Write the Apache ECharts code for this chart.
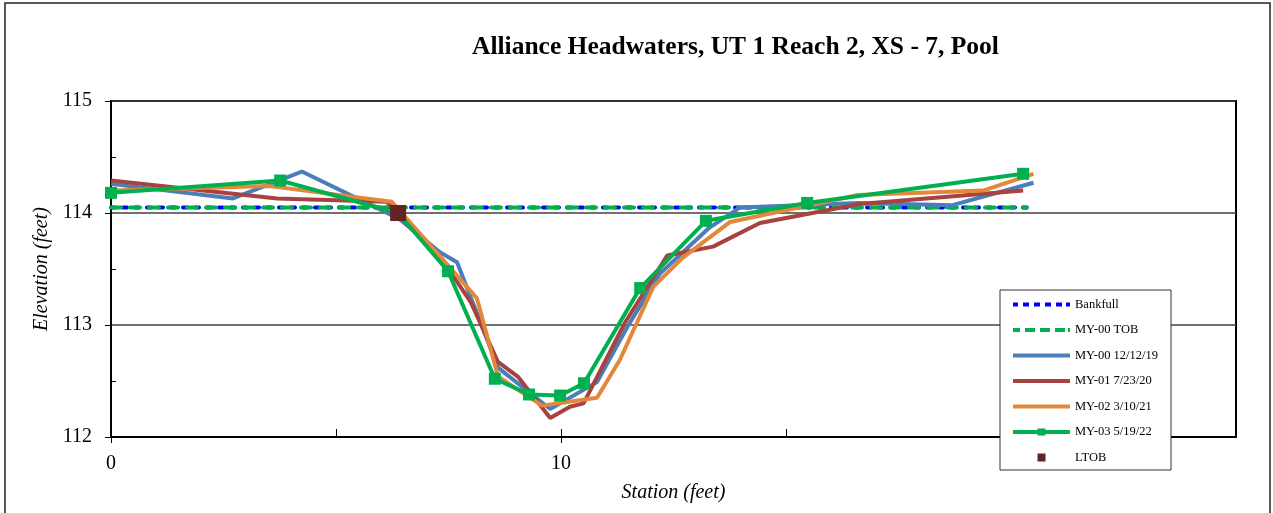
<!DOCTYPE html>
<html>
<head>
<meta charset="utf-8">
<script src="https://cdn.jsdelivr.net/npm/echarts@6/dist/echarts.min.js"></script>
<style>html,body{margin:0;padding:0;background:#fff;}#c{width:1273px;height:513px;}</style>
</head>
<body>
<div id="c"></div>
<script>
const titleText = 'Alliance Headwaters, UT 1 Reach 2, XS - 7, Pool';
const seriesNames = ['Bankfull', 'MY-00 TOB', 'MY-00 12/12/19', 'MY-01 7/23/20', 'MY-02 3/10/21', 'MY-03 5/19/22', 'LTOB'];
const bankfull = [[0, 114.05], [20.35, 114.05]];
const my00Tob = [[0, 114.05], [20.35, 114.05]];
const my00 = [[0,114.26],[2.71,114.13],[4.24,114.37],[6.4,113.95],[7.31,113.65],[7.69,113.56],[8.6,112.62],[9.76,112.25],[10.8,112.49],[11.47,112.98],[12.2,113.46],[13.3,113.87],[13.98,114.05],[16.6,114.09],[18.7,114.07],[20.5,114.27]];
const my01 = [[0,114.29],[3.69,114.13],[6.13,114.1],[7.5,113.5],[8.0,113.2],[8.6,112.67],[9.04,112.54],[9.76,112.17],[10.2,112.27],[10.5,112.3],[11.42,113.02],[12.36,113.62],[13.38,113.7],[14.42,113.91],[16.64,114.08],[20.27,114.2]];
const my02 = [[0,114.2],[3.53,114.24],[6.24,114.1],[8.13,113.24],[8.6,112.54],[9.58,112.28],[10.8,112.35],[11.31,112.69],[12.05,113.34],[12.7,113.6],[13.76,113.92],[16.6,114.16],[19.38,114.2],[20.5,114.35]];
const my03 = [[0,114.18],[3.76,114.29],[6.38,114.0],[7.49,113.48],[8.53,112.52],[9.29,112.38],[9.98,112.37],[10.51,112.48],[11.76,113.33],[13.22,113.93],[15.47,114.09],[20.27,114.35]];
const ltob = [[6.38, 114.0]];
const xMajorTicks = [0, 10, 20];
const xLabelTicks = [0, 10];
const yMinorTicks = [112.5, 113.5, 114.5];

const FONT = 'Liberation Serif';
const BOX = 'M0,0M57,10';
const icons = {
  dashShort: 'path://' + BOX + 'M0,3h5v4h-5zM10,3h6v4h-6zM21,3h6v4h-6zM32,3h6v4h-6zM43,3h6v4h-6zM53,3h4v4h-4z',
  dashLong: 'path://' + BOX + 'M0,3h7v4h-7zM12,3h10v4h-10zM27,3h10v4h-10zM42,3h10v4h-10zM55,3h2v4h-2z',
  solid: 'path://' + BOX + 'M0,3h57v4h-57z',
  marker: 'path://' + BOX + 'M0,3h57v4h-57zM24.5,1.5h8v7h-8z',
  square: 'path://' + BOX + 'M24.5,1h8v8h-8z'
};
const legendIcons = [icons.dashShort, icons.dashLong, icons.solid, icons.solid, icons.solid, icons.marker, icons.square];

const chart = echarts.init(document.getElementById('c'));
chart.setOption({
  animation: false,
  backgroundColor: '#fff',
  title: {
    text: titleText, left: 472, top: 34, padding: 0,
    textStyle: { fontFamily: FONT, fontSize: 25.5, fontWeight: 'bold', color: '#000' }
  },
  grid: { left: 111, top: 101, right: 37, bottom: 76, show: true, borderColor: '#000', borderWidth: 2, backgroundColor: 'transparent' },
  graphic: { elements: [
    { type: 'rect', z: 100, shape: { x: 5, y: 3, width: 1265, height: 530 }, style: { fill: 'none', stroke: '#222', lineWidth: 1.5 } },
    { type: 'rect', z: 100, shape: { x: 1000, y: 290, width: 171, height: 180 }, style: { fill: '#fff', stroke: '#333', lineWidth: 1 } }
  ]},
  legend: {
    orient: 'vertical', left: 1013, top: 298, padding: 0, z: 200,
    itemWidth: 57, itemHeight: 10, itemGap: 12.5,
    textStyle: { fontFamily: FONT, fontSize: 12.5, color: '#000' },
    data: seriesNames.map(function (n, i) { return { name: n, icon: legendIcons[i] }; })
  },
  xAxis: [
    { type: 'value', min: 0, max: 25, interval: 5, position: 'bottom',
      axisLine: { show: true, lineStyle: { color: '#000', width: 2 } },
      axisTick: { show: true, inside: true, length: 8, lineStyle: { color: '#000', width: 1 } },
      axisLabel: { show: false }, splitLine: { show: false } },
    { type: 'value', min: 0, max: 25, interval: 10, position: 'bottom',
      axisLine: { show: false },
      axisTick: { show: true, inside: false, length: 6, customValues: xMajorTicks, lineStyle: { color: '#000', width: 1 } },
      axisLabel: { show: true, margin: 17, customValues: xLabelTicks, fontFamily: FONT, fontSize: 20, color: '#000' },
      splitLine: { show: false },
      name: 'Station (feet)', nameLocation: 'middle', nameGap: 46,
      nameTextStyle: { fontFamily: FONT, fontSize: 20, fontStyle: 'italic', color: '#000' } }
  ],
  yAxis: [
    { type: 'value', min: 112, max: 115, interval: 1, position: 'left',
      axisLine: { show: true, lineStyle: { color: '#000', width: 2 } },
      axisTick: { show: true, inside: false, length: 6, lineStyle: { color: '#000', width: 1 } },
      axisLabel: { margin: 19, fontFamily: FONT, fontSize: 20, color: '#000' },
      splitLine: { show: true, lineStyle: { color: '#404040', width: 1.5 } },
      name: 'Elevation (feet)', nameLocation: 'middle', nameGap: 58,
      nameTextStyle: { fontFamily: FONT, fontSize: 20, fontStyle: 'italic', color: '#000' } },
    { type: 'value', min: 112, max: 115, interval: 0.5, position: 'left',
      axisLine: { show: false },
      axisTick: { show: true, inside: true, length: 5, customValues: yMinorTicks, lineStyle: { color: '#000', width: 1 } },
      axisLabel: { show: false }, splitLine: { show: false } }
  ],
  series: [
    { name: seriesNames[0], type: 'line', data: bankfull, symbol: 'none', z: 2,
      lineStyle: { color: '#0000ff', width: 4, type: [4, 8], cap: 'round' }, itemStyle: { color: '#0000ff' } },
    { name: seriesNames[1], type: 'line', data: my00Tob, symbol: 'none', z: 2,
      lineStyle: { color: '#00b050', width: 4, type: [10, 9], cap: 'round' }, itemStyle: { color: '#00b050' } },
    { name: seriesNames[2], type: 'line', data: my00, symbol: 'none', z: 3,
      lineStyle: { color: '#4a7ebb', width: 4 }, itemStyle: { color: '#4a7ebb' } },
    { name: seriesNames[3], type: 'line', data: my01, symbol: 'none', z: 3,
      lineStyle: { color: '#a8423f', width: 4 }, itemStyle: { color: '#a8423f' } },
    { name: seriesNames[4], type: 'line', data: my02, symbol: 'none', z: 3,
      lineStyle: { color: '#e3873a', width: 4 }, itemStyle: { color: '#e3873a' } },
    { name: seriesNames[5], type: 'line', data: my03, symbol: 'rect', symbolSize: 12, showSymbol: true, z: 4,
      lineStyle: { color: '#00b050', width: 4 }, itemStyle: { color: '#00b050' } },
    { name: seriesNames[6], type: 'scatter', data: ltob, symbol: 'rect', symbolSize: 16, z: 5,
      itemStyle: { color: '#632523', opacity: 1 } }
  ]
});
</script>
</body>
</html>
